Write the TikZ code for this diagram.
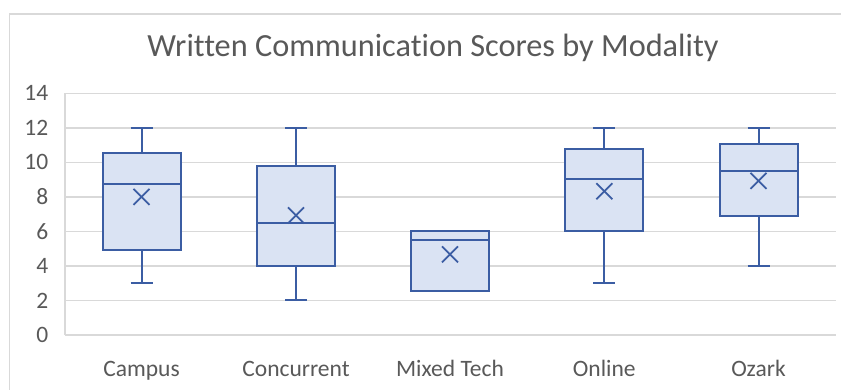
\documentclass[tikz,border=0pt]{standalone}
\usepackage{fontspec}
\setmainfont[RawFeature=-liga]{Carlito}
\definecolor{boxline}{RGB}{59,93,163}
\definecolor{boxfill}{RGB}{218,227,243}
\definecolor{gridc}{RGB}{217,217,217}
\definecolor{txt}{RGB}{89,89,89}
\definecolor{framec}{RGB}{217,217,217}
\begin{document}
\begin{tikzpicture}[x=1pt,y=1pt,
  boxst/.style={draw=boxline,fill=boxfill,line width=2pt},
  whisk/.style={draw=boxline,line width=2pt},
  gridl/.style={draw=gridc,line width=1.4pt},
  ylab/.style={anchor=east,text=txt,font=\fontsize{23.5}{25}\selectfont,inner sep=0pt},
  xlab/.style={anchor=base,text=txt,font=\fontsize{23.5}{25}\selectfont,inner sep=0pt},
  titlest/.style={anchor=base,text=txt,font=\fontsize{32.3}{34}\selectfont,inner sep=0pt}]
\useasboundingbox (0,0) rectangle (841,390);
\fill[white] (0,0) rectangle (841,390);
% chart frame
\draw[framec,line width=1.2pt] (9.5,0) -- (9.5,376) -- (841,376);
% title
\node[titlest] (title) at (433,333) {Written Communication Scores by Modality};
% data scope: x in px, y in data units
\begin{scope}[shift={(0,55)},y=17.26pt]
  \foreach \v in {2,4,...,14} {\draw[gridl] (65,\v) -- (836,\v);}
  \draw[gridl] (65,0) -- (836,0);
  \draw[gridl] (65,0) -- (65,14);
  \foreach \v in {0,2,...,14} {\node[ylab] (y\v) at (48.5,\v) {\v};}
  % box plots: center, min, q1, median, q3, max, mean, name
  \foreach \c/\mn/\qa/\md/\qc/\mx/\mean/\nm/\lab in {
      141.5/3/4.9/8.77/10.52/12/8.0/campus/Campus,
      296/2/4.0/6.5/9.79/12/6.93/concurrent/Concurrent,
      450/2.53/2.53/5.5/6.03/6.03/4.67/mixed/Mixed Tech,
      604.3/3/6.0/9.03/10.78/12/8.33/online/Online,
      758.5/4/6.9/9.53/11.04/12/8.93/ozark/Ozark} {
    \draw[whisk] (\c,\qc) -- (\c,\mx);
    \draw[whisk] (\c,\qa) -- (\c,\mn);
    \draw[whisk] (\c-11,\mx) -- (\c+11,\mx);
    \draw[whisk] (\c-11,\mn) -- (\c+11,\mn);
    \draw[boxst] (\c-39,\qa) rectangle (\c+39,\qc);
    \draw[whisk] (\c-39,\md) -- (\c+39,\md);
    \coordinate (m\nm) at (\c,\mean);
    \draw[draw=boxline,line width=1.8pt] (m\nm) ++(-8pt,-8pt) -- ++(16pt,16pt);
    \draw[draw=boxline,line width=1.8pt] (m\nm) ++(-8pt,8pt) -- ++(16pt,-16pt);
    \node[xlab] (l\nm) at (\c,-2.4) {\lab};
  }
\end{scope}
\end{tikzpicture}
\end{document}
